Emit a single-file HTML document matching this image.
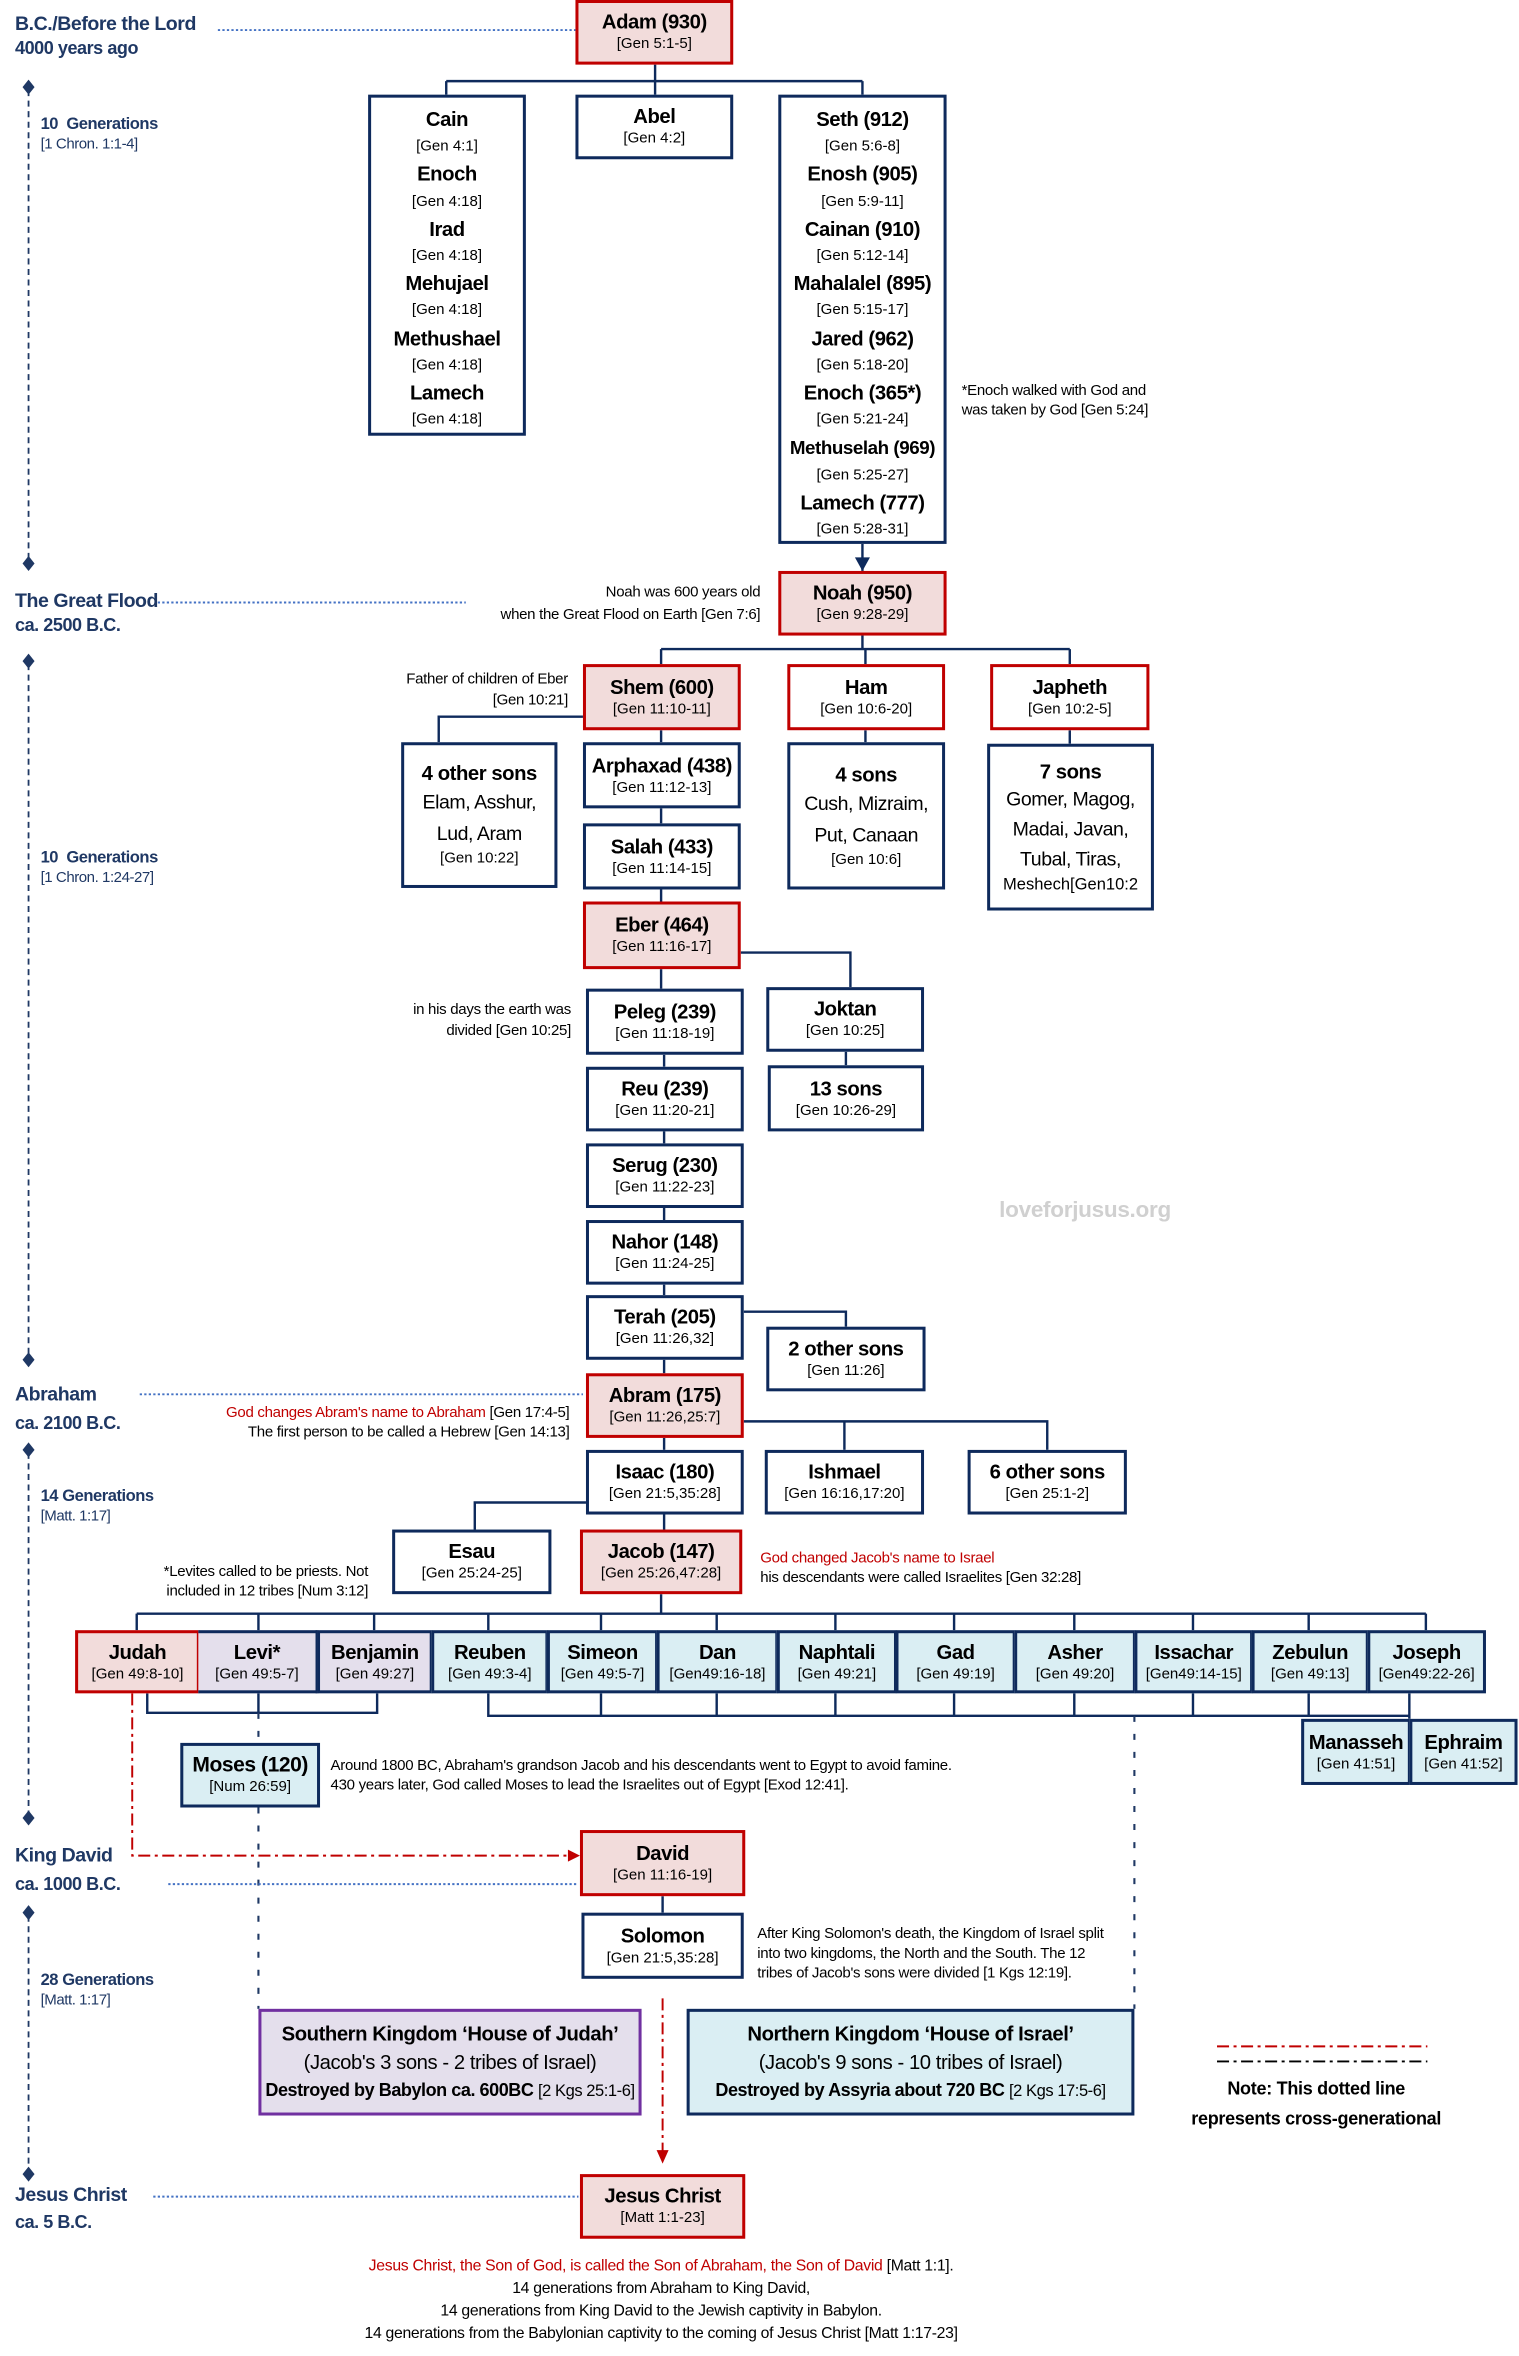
<!DOCTYPE html>
<html><head><meta charset="utf-8"><style>
html,body{margin:0;padding:0;background:#fff;}
body{width:1519px;height:2356px;overflow:hidden;position:relative;}
#w{position:absolute;left:0;top:0;width:1011px;height:1568px;transform:scale(1.5025);transform-origin:0 0;font-family:"Liberation Sans Narrow","Liberation Sans",sans-serif;color:#000;}
.b{position:absolute;box-sizing:border-box;border:2px solid #0e2a5c;background:#fff;display:flex;flex-direction:column;justify-content:center;align-items:center;text-align:center;}
.p{background:#f2dcdb;border-color:#c00000;}
.r{border-color:#c00000;}
.l{background:#e4dfec;}
.c{background:#daeef3;}
.n{font-weight:bold;font-size:13.5px;line-height:17px;letter-spacing:-0.3px;}
.f{font-size:10px;line-height:14px;}
.t{position:absolute;font-size:10px;line-height:13px;white-space:nowrap;letter-spacing:-0.2px;}
.ra{text-align:right;}
.red{color:#c00000;}
.lab{position:absolute;color:#1f3864;font-weight:bold;white-space:nowrap;letter-spacing:-0.3px;}
.lab .a{font-size:13px;line-height:16px;}
.lab .g{font-size:11px;line-height:15px;}
.lab .s{font-size:10px;font-weight:normal;}
.tall .n{line-height:18.2px}
.tall .f{line-height:18.2px}
svg{position:absolute;left:0;top:0;}
</style></head><body><div id="w">
<svg width="1011" height="1568" viewBox="0 0 1011 1568">
<g stroke="#0e2a5c" stroke-width="1.6" fill="none">
<!-- Adam -->
<path d="M436 43V54M297 54H574M297 54V63M436 54V63M574 54V63"/>
<path d="M574 362V372"/>
<!-- Noah -->
<path d="M574 423V432M440 432H712M440 432V442M576 432V442M712 432V442"/>
<path d="M388 477H292V494M440 486V494M440 538V548M440 592V600M576 486V494M712 486V495"/>
<!-- Eber -->
<path d="M440 645V658M493 634H566V657M442 702V710M563 700V709M442 753V761M442 804V812M442 855V862M495 873H563V883M442 905V914"/>
<!-- Abram -->
<path d="M442 957V965M495 946H697V965M562 946V965M442 1008V1018M442 1000H316V1018"/>
<!-- Jacob to tribes -->
<path d="M440 1061V1074M91 1074H949M91 1074V1085M172 1074V1085M249 1074V1085M325 1074V1085M400 1074V1085M477 1074V1085M556 1074V1085M635 1074V1085M715 1074V1085M794 1074V1085M871 1074V1085M949 1074V1085"/>
<path d="M98 1127V1140H251V1127M172 1127V1140"/>
<path d="M325 1127V1142H938M400 1127V1142M477 1127V1142M556 1127V1142M635 1127V1142M715 1127V1142M794 1127V1142M871 1127V1142M938 1127V1144"/>
<path d="M441 1262V1273"/>
</g>
<path d="M574 372V380" stroke="#0e2a5c" stroke-width="1.6"/>
<polygon points="569,371 579,371 574,380" fill="#0e2a5c"/>
<!-- dashed lines -->
<g stroke="#1f3864" stroke-width="1.4" fill="none" stroke-dasharray="4,8">
<path d="M172 1140V1160M172 1203V1337M755 1142V1337"/>
</g>
<!-- timeline -->
<g stroke="#1f3864" stroke-width="1.2" fill="none" stroke-dasharray="4,3">
<path d="M19 60V372M19 442V902M19 967V1208M19 1275V1445"/>
</g>
<g fill="#1f3864">
<polygon points="19,53 23,58 19,63 15,58"/><polygon points="19,370 23,375 19,380 15,375"/>
<polygon points="19,435 23,440 19,445 15,440"/><polygon points="19,900 23,905 19,910 15,905"/>
<polygon points="19,960 23,965 19,970 15,965"/><polygon points="19,1205 23,1210 19,1215 15,1210"/>
<polygon points="19,1268 23,1273 19,1278 15,1273"/><polygon points="19,1442 23,1447 19,1452 15,1447"/>
</g>
<g stroke="#4472c4" stroke-width="1.3" stroke-dasharray="1.5,1.5" fill="none">
<path d="M145 20H383M105 401H310M93 928H388M112 1254H385M102 1462H385"/>
</g>
<!-- red dash-dot -->
<g stroke="#c00000" stroke-width="1.3" fill="none" stroke-dasharray="8,3,2,3">
<path d="M88 1127V1235H378M441 1330V1432"/>
<path d="M810 1362H950"/>
</g>
<polygon points="378,1231 386,1235 378,1239" fill="#c00000"/>
<polygon points="437,1431 445,1431 441,1440" fill="#c00000"/>
<path d="M810 1372H950" stroke="#000" stroke-width="1.3" stroke-dasharray="8,3,2,3"/>
</svg>

<!-- left labels -->
<div class="lab" style="left:10px;top:8px"><div class="a">B.C./Before the Lord</div><div class="a" style="font-size:12px">4000 years ago</div></div>
<div class="lab" style="left:27px;top:76px"><div class="g">10&nbsp; Generations</div><div class="s">[1 Chron. 1:1-4]</div></div>
<div class="lab" style="left:10px;top:392px"><div class="a">The Great Flood</div><div class="a" style="font-size:12px">ca. 2500 B.C.</div></div>
<div class="lab" style="left:27px;top:564px"><div class="g">10&nbsp; Generations</div><div class="s">[1 Chron. 1:24-27]</div></div>
<div class="lab" style="left:10px;top:920px"><div class="a">Abraham</div><div class="a" style="font-size:12px;margin-top:3px">ca. 2100 B.C.</div></div>
<div class="lab" style="left:27px;top:989px"><div class="g">14 Generations</div><div class="s">[Matt. 1:17]</div></div>
<div class="lab" style="left:10px;top:1227px"><div class="a">King David</div><div class="a" style="font-size:12px;margin-top:3px">ca. 1000 B.C.</div></div>
<div class="lab" style="left:27px;top:1311px"><div class="g">28 Generations</div><div class="s">[Matt. 1:17]</div></div>
<div class="lab" style="left:10px;top:1453px"><div class="a">Jesus Christ</div><div class="a" style="font-size:12px;margin-top:2px">ca. 5 B.C.</div></div>

<!-- boxes -->
<div class="b p" style="left:383px;top:0;width:105px;height:43px"><div class="n">Adam (930)</div><div class="f">[Gen 5:1-5]</div></div>
<div class="b tall" style="left:245px;top:63px;width:105px;height:227px;justify-content:flex-start;padding-top:6px">
<div class="n">Cain</div><div class="f">[Gen 4:1]</div><div class="n">Enoch</div><div class="f">[Gen 4:18]</div><div class="n">Irad</div><div class="f">[Gen 4:18]</div><div class="n">Mehujael</div><div class="f">[Gen 4:18]</div><div class="n">Methushael</div><div class="f">[Gen 4:18]</div><div class="n">Lamech</div><div class="f">[Gen 4:18]</div></div>
<div class="b" style="left:383px;top:63px;width:105px;height:43px"><div class="n">Abel</div><div class="f">[Gen 4:2]</div></div>
<div class="b tall" style="left:518px;top:63px;width:112px;height:299px;justify-content:flex-start;padding-top:6px">
<div class="n">Seth (912)</div><div class="f">[Gen 5:6-8]</div><div class="n">Enosh (905)</div><div class="f">[Gen 5:9-11]</div><div class="n">Cainan (910)</div><div class="f">[Gen 5:12-14]</div><div class="n">Mahalalel (895)</div><div class="f">[Gen 5:15-17]</div><div class="n">Jared (962)</div><div class="f">[Gen 5:18-20]</div><div class="n">Enoch (365*)</div><div class="f">[Gen 5:21-24]</div><div class="n" style="font-size:12.5px">Methuselah (969)</div><div class="f">[Gen 5:25-27]</div><div class="n">Lamech (777)</div><div class="f">[Gen 5:28-31]</div></div>
<div class="t" style="left:640px;top:254px">*Enoch walked with God and<br>was taken by God [Gen 5:24]</div>

<div class="b p" style="left:518px;top:380px;width:112px;height:43px"><div class="n">Noah (950)</div><div class="f">[Gen 9:28-29]</div></div>
<div class="t ra" style="right:505px;top:387px;line-height:15px">Noah was 600 years old<br>when the Great Flood on Earth [Gen 7:6]</div>

<div class="b p" style="left:388px;top:442px;width:105px;height:44px"><div class="n">Shem (600)</div><div class="f">[Gen 11:10-11]</div></div>
<div class="b r" style="left:524px;top:442px;width:105px;height:44px"><div class="n">Ham</div><div class="f">[Gen 10:6-20]</div></div>
<div class="b r" style="left:659px;top:442px;width:106px;height:44px"><div class="n">Japheth</div><div class="f">[Gen 10:2-5]</div></div>
<div class="t ra" style="right:633px;top:446px;line-height:14px">Father of children of Eber<br>[Gen 10:21]</div>

<div class="b" style="left:267px;top:494px;width:104px;height:97px"><div class="n">4 other sons</div><div class="n" style="font-weight:normal;font-size:13px;line-height:21px">Elam, Asshur,<br>Lud, Aram</div><div class="f">[Gen 10:22]</div></div>
<div class="b" style="left:388px;top:494px;width:105px;height:44px"><div class="n">Arphaxad (438)</div><div class="f">[Gen 11:12-13]</div></div>
<div class="b" style="left:388px;top:548px;width:105px;height:44px"><div class="n">Salah (433)</div><div class="f">[Gen 11:14-15]</div></div>
<div class="b" style="left:524px;top:494px;width:105px;height:98px"><div class="n">4 sons</div><div class="n" style="font-weight:normal;font-size:13px;line-height:21px">Cush, Mizraim,<br>Put, Canaan</div><div class="f">[Gen 10:6]</div></div>
<div class="b" style="left:657px;top:495px;width:111px;height:111px"><div class="n">7 sons</div><div class="n" style="font-weight:normal;font-size:13px;line-height:20px">Gomer, Magog,<br>Madai, Javan,<br>Tubal, Tiras,</div><div class="f" style="font-size:11px">Meshech[Gen10:2</div></div>

<div class="b p" style="left:388px;top:600px;width:105px;height:45px"><div class="n">Eber (464)</div><div class="f">[Gen 11:16-17]</div></div>
<div class="t ra" style="right:631px;top:666px;line-height:14px">in his days the earth was<br>divided [Gen 10:25]</div>
<div class="b" style="left:390px;top:658px;width:105px;height:44px"><div class="n">Peleg (239)</div><div class="f">[Gen 11:18-19]</div></div>
<div class="b" style="left:510px;top:657px;width:105px;height:43px"><div class="n">Joktan</div><div class="f">[Gen 10:25]</div></div>
<div class="b" style="left:390px;top:710px;width:105px;height:43px"><div class="n">Reu (239)</div><div class="f">[Gen 11:20-21]</div></div>
<div class="b" style="left:511px;top:709px;width:104px;height:44px"><div class="n">13 sons</div><div class="f">[Gen 10:26-29]</div></div>
<div class="b" style="left:390px;top:761px;width:105px;height:43px"><div class="n">Serug (230)</div><div class="f">[Gen 11:22-23]</div></div>
<div class="b" style="left:390px;top:812px;width:105px;height:43px"><div class="n">Nahor (148)</div><div class="f">[Gen 11:24-25]</div></div>
<div class="t" style="left:665px;top:799px;font-size:15px;font-weight:bold;color:#d0d0d0">loveforjusus.org</div>
<div class="b" style="left:390px;top:862px;width:105px;height:43px"><div class="n">Terah (205)</div><div class="f">[Gen 11:26,32]</div></div>
<div class="b" style="left:510px;top:883px;width:106px;height:43px"><div class="n">2 other sons</div><div class="f">[Gen 11:26]</div></div>

<div class="b p" style="left:390px;top:914px;width:105px;height:43px"><div class="n">Abram (175)</div><div class="f">[Gen 11:26,25:7]</div></div>
<div class="t ra" style="right:632px;top:934px"><span class="red">God changes Abram's name to Abraham</span> [Gen 17:4-5]<br>The first person to be called a Hebrew [Gen 14:13]</div>
<div class="b" style="left:390px;top:965px;width:105px;height:43px"><div class="n">Isaac (180)</div><div class="f">[Gen 21:5,35:28]</div></div>
<div class="b" style="left:509px;top:965px;width:106px;height:43px"><div class="n">Ishmael</div><div class="f">[Gen 16:16,17:20]</div></div>
<div class="b" style="left:644px;top:965px;width:106px;height:43px"><div class="n">6 other sons</div><div class="f">[Gen 25:1-2]</div></div>
<div class="b" style="left:261px;top:1018px;width:106px;height:43px"><div class="n">Esau</div><div class="f">[Gen 25:24-25]</div></div>
<div class="b p" style="left:386px;top:1018px;width:108px;height:43px"><div class="n">Jacob (147)</div><div class="f">[Gen 25:26,47:28]</div></div>
<div class="t" style="left:506px;top:1031px"><span class="red">God changed Jacob's name to Israel</span><br>his descendants were called Israelites [Gen 32:28]</div>
<div class="t ra" style="right:766px;top:1040px">*Levites called to be priests. Not<br>included in 12 tribes [Num 3:12]</div>

<!-- tribes -->
<div class="b p" style="left:50px;top:1085px;width:83px;height:42px"><div class="n">Judah</div><div class="f">[Gen 49:8-10]</div></div>
<div class="b l" style="left:132px;top:1085px;width:80px;height:42px;border-left:none"><div class="n">Levi*</div><div class="f">[Gen 49:5-7]</div></div>
<div class="b l" style="left:211px;top:1085px;width:77px;height:42px"><div class="n">Benjamin</div><div class="f">[Gen 49:27]</div></div>
<div class="b c" style="left:287px;top:1085px;width:78px;height:42px"><div class="n">Reuben</div><div class="f">[Gen 49:3-4]</div></div>
<div class="b c" style="left:364px;top:1085px;width:74px;height:42px"><div class="n">Simeon</div><div class="f">[Gen 49:5-7]</div></div>
<div class="b c" style="left:437px;top:1085px;width:81px;height:42px"><div class="n">Dan</div><div class="f">[Gen49:16-18]</div></div>
<div class="b c" style="left:517px;top:1085px;width:80px;height:42px"><div class="n">Naphtali</div><div class="f">[Gen 49:21]</div></div>
<div class="b c" style="left:596px;top:1085px;width:80px;height:42px"><div class="n">Gad</div><div class="f">[Gen 49:19]</div></div>
<div class="b c" style="left:675px;top:1085px;width:81px;height:42px"><div class="n">Asher</div><div class="f">[Gen 49:20]</div></div>
<div class="b c" style="left:755px;top:1085px;width:79px;height:42px"><div class="n">Issachar</div><div class="f">[Gen49:14-15]</div></div>
<div class="b c" style="left:833px;top:1085px;width:78px;height:42px"><div class="n">Zebulun</div><div class="f">[Gen 49:13]</div></div>
<div class="b c" style="left:910px;top:1085px;width:79px;height:42px"><div class="n">Joseph</div><div class="f">[Gen49:22-26]</div></div>
<div class="b c" style="left:866px;top:1144px;width:73px;height:44px"><div class="n">Manasseh</div><div class="f">[Gen 41:51]</div></div>
<div class="b c" style="left:938px;top:1144px;width:72px;height:44px"><div class="n">Ephraim</div><div class="f">[Gen 41:52]</div></div>

<div class="b c" style="left:120px;top:1160px;width:93px;height:43px"><div class="n" style="font-size:14px">Moses (120)</div><div class="f">[Num 26:59]</div></div>
<div class="t" style="left:220px;top:1169px">Around 1800 BC, Abraham's grandson Jacob and his descendants went to Egypt to avoid famine.<br>430 years later, God called Moses to lead the Israelites out of Egypt [Exod 12:41].</div>

<div class="b p" style="left:386px;top:1218px;width:110px;height:44px"><div class="n">David</div><div class="f">[Gen 11:16-19]</div></div>
<div class="b" style="left:387px;top:1273px;width:108px;height:44px"><div class="n">Solomon</div><div class="f">[Gen 21:5,35:28]</div></div>
<div class="t" style="left:504px;top:1281px">After King Solomon's death, the Kingdom of Israel split<br>into two kingdoms, the North and the South. The 12<br>tribes of Jacob's sons were divided [1 Kgs 12:19].</div>

<div class="b l" style="left:172px;top:1337px;width:255px;height:71px;border-color:#7030a0"><div class="n">Southern Kingdom ‘House of Judah’</div><div class="n" style="font-weight:normal;line-height:21px">(Jacob's 3 sons - 2 tribes of Israel)</div><div class="n" style="font-size:12px">Destroyed by Babylon ca. 600BC <span style="font-weight:normal;font-size:11px">[2 Kgs 25:1-6]</span></div></div>
<div class="b c" style="left:457px;top:1337px;width:298px;height:71px"><div class="n">Northern Kingdom ‘House of Israel’</div><div class="n" style="font-weight:normal;line-height:21px">(Jacob's 9 sons - 10 tribes of Israel)</div><div class="n" style="font-size:12px">Destroyed by Assyria about 720 BC <span style="font-weight:normal;font-size:11px">[2 Kgs 17:5-6]</span></div></div>
<div class="t" style="left:776px;top:1380px;width:200px;text-align:center;font-weight:bold;font-size:12px;line-height:20px">Note: This dotted line<br>represents cross-generational</div>

<div class="b p" style="left:386px;top:1447px;width:110px;height:43px"><div class="n">Jesus Christ</div><div class="f">[Matt 1:1-23]</div></div>
<div class="t" style="left:190px;top:1501px;width:500px;text-align:center;font-size:10.5px;line-height:15px"><span class="red">Jesus Christ, the Son of God, is called the Son of Abraham, the Son of David</span> [Matt 1:1].<br>14 generations from Abraham to King David,<br>14 generations from King David to the Jewish captivity in Babylon.<br>14 generations from the Babylonian captivity to the coming of Jesus Christ [Matt 1:17-23]</div>
</div></body></html>
